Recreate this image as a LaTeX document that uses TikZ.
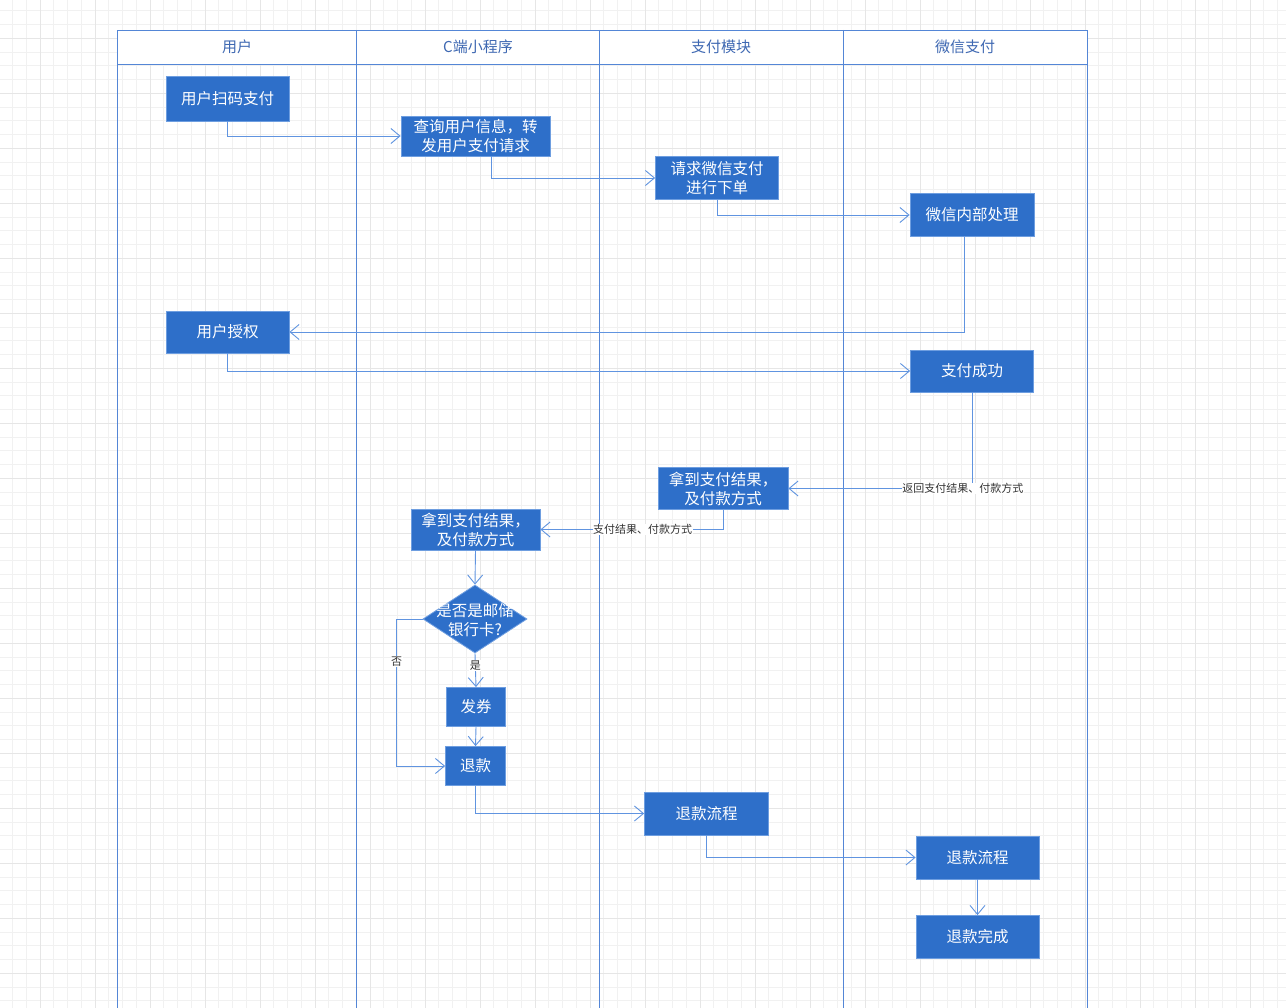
\documentclass[tikz,border=0pt]{standalone}
\usepackage{fontspec}
\setmainfont{Noto Sans CJK SC}
\usetikzlibrary{arrows.meta,shapes.geometric}

\definecolor{boxblue}{RGB}{46,111,201}
\definecolor{boxedge}{RGB}{110,158,224}
\definecolor{laneblue}{RGB}{84,134,214}
\definecolor{flowblue}{RGB}{96,148,224}
\definecolor{headtext}{RGB}{62,104,178}
\definecolor{minorgrid}{RGB}{241,241,241}
\definecolor{majorgrid}{RGB}{230,230,230}

\tikzset{
  box/.style={rectangle, fill=boxblue, draw=boxedge, line width=0.8pt, text=white,
    font=\fontsize{15.5}{19}\selectfont, align=center, inner sep=0pt},
  decision/.style={diamond, fill=boxblue, draw=boxedge, line width=0.8pt, inner sep=0pt},
  boxtext/.style={text=white, font=\fontsize{15.5}{19}\selectfont, align=center, inner sep=0pt},
  flow/.style={draw=flowblue, line width=0.9pt, -{Straight Barb[length=9pt,width=15pt]}},
  flowlabel/.style={fill=white, text=black!80, font=\fontsize{11}{13}\selectfont, inner sep=0.5pt},
  lane/.style={draw=laneblue, line width=0.9pt},
  headlabel/.style={text=headtext, font=\fontsize{15}{18}\selectfont},
}

\begin{document}
\begin{tikzpicture}[x=1pt, y=-1pt]

    \fill[white] (0,0) rectangle (1286,1008);
    \useasboundingbox (0,0) rectangle (1286,1008);

    % grid
    \foreach \i in {0,...,96}
      \draw[minorgrid, line width=1pt] ({-15+\i*13.75},0) -- ({-15+\i*13.75},1008);
    \foreach \i in {0,...,75}
      \draw[minorgrid, line width=1pt] (0,{-16.7+\i*13.75}) -- (1286,{-16.7+\i*13.75});
    \foreach \i in {0,...,24}
      \draw[majorgrid, line width=1pt] ({-15+\i*55},0) -- ({-15+\i*55},1008);
    \foreach \i in {0,...,19}
      \draw[majorgrid, line width=1pt] (0,{-16.7+\i*55}) -- (1286,{-16.7+\i*55});

    % lanes
    \fill[white] (117,30) rectangle (1087,64);
    \draw[lane] (117,1010) -- (117,30) -- (1087,30) -- (1087,1010);
    \draw[lane] (117,64) -- (1087,64);
    \draw[lane] (356,30) -- (356,1010);
    \draw[lane] (599,30) -- (599,1010);
    \draw[lane] (843,30) -- (843,1010);

    \node[headlabel] (hUser)   at (237,47) {用户};
    \node[headlabel] (hApp)    at (478,47) {C端小程序};
    \node[headlabel] (hPay)    at (721,47) {支付模块};
    \node[headlabel] (hWechat) at (965,47) {微信支付};

    % steps
    \node[box, minimum width=123pt, minimum height=45pt] (scan)     at (227.5, 98.5) {用户扫码支付};
    \node[box, minimum width=149pt, minimum height=40pt] (query)    at (475.5,136)   {查询用户信息，转\\发用户支付请求};
    \node[box, minimum width=123pt, minimum height=43pt] (order)    at (717,178)     {请求微信支付\\进行下单};
    \node[box, minimum width=124pt, minimum height=43pt] (wxproc)   at (972,215)     {微信内部处理};
    \node[box, minimum width=123pt, minimum height=42pt] (auth)     at (227.5,332)   {用户授权};
    \node[box, minimum width=123pt, minimum height=42pt] (paid)     at (972,371)     {支付成功};
    \node[box, minimum width=130pt, minimum height=42pt] (resultA)  at (723,488.5)   {拿到支付结果，\\及付款方式};
    \node[box, minimum width=129pt, minimum height=41pt] (resultB)  at (475.5,529.5) {拿到支付结果，\\及付款方式};
    \node[decision, minimum width=104pt, minimum height=68pt] (check) at (475,619) {};
    \node[boxtext] (checktext) at (475,620) {是否是邮储\\银行卡?};
    \node[box, minimum width=59pt, minimum height=39pt]  (coupon)   at (476,707)     {发券};
    \node[box, minimum width=60pt, minimum height=39pt]  (refund)   at (475.5,766)   {退款};
    \node[box, minimum width=124pt, minimum height=43pt] (rflow)    at (706.5,813.5) {退款流程};
    \node[box, minimum width=123pt, minimum height=43pt] (wxrefund) at (977.5,857.5) {退款流程};
    \node[box, minimum width=123pt, minimum height=43pt] (done)     at (977.5,937)   {退款完成};

    % connectors
    \draw[flow] (scan.south) |- (query.west);
    \draw[flow] ([xshift=15.5pt]query.south) |- (order.west);
    \draw[flow] (order.south) |- (wxproc.west);
    \draw[flow] ([xshift=-8pt]wxproc.south) |- (auth.east);
    \draw[flow] (auth.south) |- (paid.west);
    \draw[flow] (paid.south) |- (resultA.east)
        node[flowlabel, pos=0.525] (lblReturn) {返回支付结果、付款方式};
    \draw[flow] (resultA.south) |- (resultB.east)
        node[flowlabel, pos=0.72] (lblResult) {支付结果、付款方式};
    \draw[flow] (resultB.south) -- (check.north);
    \draw[flow] (check.south) -- (coupon.north)
        node[flowlabel, pos=0.35] (lblYes) {是};
    \draw[flow] (coupon.south) -- (refund.north);
    \draw[flow] (check.west) -- ++(-26,0) |- (refund.west)
        node[flowlabel, pos=0.145] (lblNo) {否};
    \draw[flow] (refund.south) |- (rflow.west);
    \draw[flow] (rflow.south) |- (wxrefund.west);
    \draw[flow] (wxrefund.south) -- (done.north);

\end{tikzpicture}
\end{document}
